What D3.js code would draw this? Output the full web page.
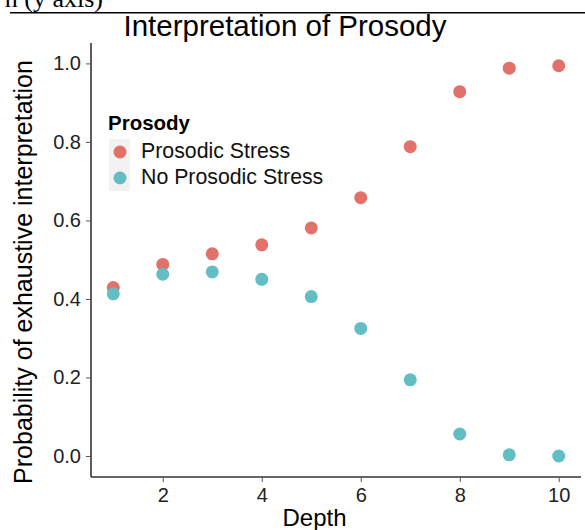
<!DOCTYPE html>
<html><head><meta charset="utf-8">
<script src="https://cdn.jsdelivr.net/npm/d3@7"></script>
<style>body{margin:0;background:#fff}svg{display:block}</style>
</head><body>
<svg id="c" width="585" height="530"></svg>
<script>
const depth = [1,2,3,4,5,6,7,8,9,10];
const prosodicStress = [0.429,0.488,0.515,0.538,0.581,0.658,0.788,0.928,0.988,0.994];
const noProsodicStress = [0.413,0.463,0.469,0.450,0.406,0.325,0.194,0.056,0.003,0.000];
const seriesNames = ["Prosodic Stress","No Prosodic Stress"];
const seriesColors = ["#E2716A","#62BEC3"];
const xTicks = [2,4,6,8,10];
const yTicks = [0.0,0.2,0.4,0.6,0.8,1.0];

const svg = d3.select("#c");
const font = "'Liberation Sans', Arial, Helvetica, sans-serif";
const L=91, R=581, T=43, B=477;
const x = d3.scaleLinear().domain([0.55,10.45]).range([L,R]);
const y = d3.scaleLinear().domain([-0.0535,1.052]).range([B,T]);

// top fragment from screenshot
svg.append("text").attr("x",103).attr("y",7).attr("text-anchor","end")
  .attr("font-family","'Liberation Serif', 'Times New Roman', serif").attr("font-size",26)
  .attr("fill","#000").text("n (y axis)");
svg.append("line").attr("x1",10).attr("x2",585).attr("y1",12.7).attr("y2",12.7)
  .attr("stroke","#000").attr("stroke-width",1.5);

// title
svg.append("text").attr("x",285).attr("y",36).attr("text-anchor","middle")
  .attr("font-family",font).attr("font-size",29.5).attr("fill","#000").text("Interpretation of Prosody");

// axes
const xAxis = d3.axisBottom(x).tickValues(xTicks).tickFormat(d3.format("d")).tickSize(5).tickSizeOuter(0).tickPadding(6);
const yAxis = d3.axisLeft(y).tickValues(yTicks).tickFormat(d3.format(".1f")).tickSize(5).tickSizeOuter(0).tickPadding(5);
const gx = svg.append("g").attr("transform",`translate(0,${B})`).call(xAxis);
const gy = svg.append("g").attr("transform",`translate(${L},0)`).call(yAxis);
[gx,gy].forEach(g=>{
  g.select(".domain").attr("stroke","#333").attr("stroke-width",1.6);
  g.selectAll(".tick line").attr("stroke","#555").attr("stroke-width",1);
  g.selectAll(".tick text").attr("font-family",font).attr("font-size",20).attr("fill","#222");
});
gy.select(".domain").attr("d",`M0,${B}V${T}`);
gx.select(".domain").attr("d",`M${L},0H${R}`);

// axis titles
svg.append("text").attr("x",314.5).attr("y",526).attr("text-anchor","middle")
  .attr("font-family",font).attr("font-size",24).attr("fill","#000").text("Depth");
svg.append("text").attr("transform","translate(32,272) rotate(-90)").attr("text-anchor","middle")
  .attr("font-family",font).attr("font-size",25).attr("fill","#000").text("Probability of exhaustive interpretation");

// points
const series = [prosodicStress, noProsodicStress];
series.forEach((vals,i)=>{
  svg.append("g").selectAll("circle").data(depth).join("circle")
    .attr("cx",d=>x(d)).attr("cy",(d,j)=>y(vals[j])).attr("r",6.5)
    .attr("fill",seriesColors[i]);
});

// legend
const lg = svg.append("g");
lg.append("text").attr("x",108).attr("y",130).attr("font-family",font).attr("font-weight","bold")
  .attr("font-size",20.5).attr("fill","#000").text("Prosody");
seriesNames.forEach((n,i)=>{
  const ky = 139 + i*26;
  lg.append("rect").attr("x",109).attr("y",ky).attr("width",21).attr("height",26).attr("fill","#F2F2F2");
  lg.append("circle").attr("cx",120).attr("cy",ky+13).attr("r",6.5).attr("fill",seriesColors[i]);
  lg.append("text").attr("x",141).attr("y",ky+19).attr("font-family",font).attr("font-size",21.3)
    .attr("fill","#111").text(n);
});
</script>
</body></html>
